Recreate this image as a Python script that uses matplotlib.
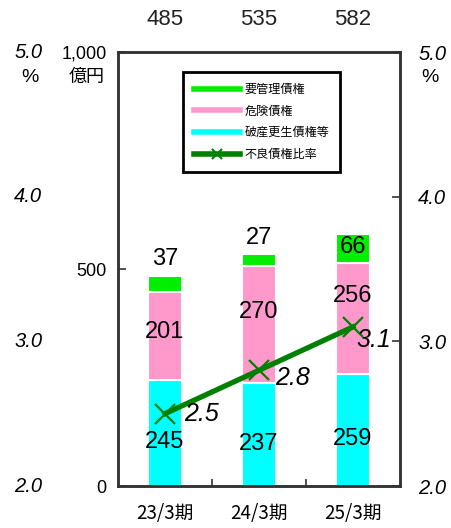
import matplotlib.pyplot as plt
import numpy as np
from matplotlib.lines import Line2D

plt.rcParams['font.family'] = ['Liberation Sans', 'Noto Sans CJK JP', 'DejaVu Sans']

# data
periods = ['23/3期', '24/3期', '25/3期']
hasan = [245, 237, 259]      # 破産更生債権等
kiken = [201, 270, 256]      # 危険債権
yokanri = [37, 27, 66]       # 要管理債権
totals = [485, 535, 582]
ratio = [2.5, 2.8, 3.1]      # 不良債権比率 (%)

c_green = '#00ee00'
c_pink = '#ff99cc'
c_cyan = '#00ffff'
c_line = '#008000'
spine_c = '#333333'

fig = plt.figure(figsize=(4.52, 5.28), dpi=100)
ax = fig.add_axes([0.261, 0.0795, 0.624, 0.822])
x = np.arange(len(periods))
w = 0.37

ax.bar(x, hasan, w, color=c_cyan, edgecolor='white', linewidth=1.5)
ax.bar(x, kiken, w, bottom=hasan, color=c_pink, edgecolor='white', linewidth=1.5)
bot3 = np.array(hasan) + np.array(kiken)
ax.bar(x, yokanri, w, bottom=bot3, color=c_green, edgecolor='white', linewidth=1.5)

ax.set_xlim(-0.5, 2.5)
ax.set_ylim(0, 1000)
ax.set_yticks([0, 500, 1000])
ax.set_yticklabels(['0', '500', '1,000'], fontsize=13)
ax.tick_params(axis='y', direction='in', length=6, width=1.2, color=spine_c, pad=8)
ax.set_xticks([0.5, 1.5])
ax.set_xticklabels([])
ax.tick_params(axis='x', direction='in', length=5, width=1.2, color=spine_c)
for i, p in enumerate(periods):
    ax.text(x[i], -0.038, p, transform=ax.get_xaxis_transform(), ha='center', va='top',
            fontsize=13.5, family=['Noto Sans CJK JP'])
for s in ax.spines.values():
    s.set_linewidth(1.8)
    s.set_color(spine_c)

ax.text(-0.11, 0.942, '億円', transform=ax.transAxes, ha='center', va='center', fontsize=13,
        family=['Noto Sans CJK JP'])

# segment labels
pink_off = (10, 30, 50)
for i in range(3):
    ax.text(x[i], hasan[i] / 2 - 22, str(hasan[i]), ha='center', va='center', fontsize=17)
    ax.text(x[i], hasan[i] + kiken[i] / 2 + pink_off[i], str(kiken[i]),
            ha='center', va='center', fontsize=17)
    if yokanri[i] > 50:
        ax.text(x[i], bot3[i] + yokanri[i] / 2 + 2, str(yokanri[i]), ha='center', va='center',
                fontsize=17)
    else:
        ax.text(x[i], totals[i] + 12, str(yokanri[i]), ha='center', va='bottom', fontsize=17)
    ax.text(x[i], 1.075, str(totals[i]), transform=ax.get_xaxis_transform(),
            ha='center', va='center', fontsize=16, color='#222222')

# ratio line on secondary axis
ax2 = ax.twinx()
ax2.set_ylim(2.0, 5.0)
ax2.plot(x, ratio, color=c_line, linewidth=3.8, marker='x', markersize=14,
         markeredgewidth=1.6)
lab_dx = (0.2, 0.17, 0.04)
lab_dy = (0.0, -0.05, -0.09)
for i in range(3):
    ax2.text(x[i] + lab_dx[i], ratio[i] + lab_dy[i], f'{ratio[i]:.1f}', ha='left', va='center',
             fontsize=18, style='italic')
ax2.set_yticks([2, 3, 4, 5])
ax2.set_yticklabels(['2.0', '3.0', '4.0', '5.0'], fontsize=14.5, style='italic')
ax2.tick_params(axis='y', direction='in', length=6, width=1.2, color=spine_c, pad=13)
for s in ax2.spines.values():
    s.set_linewidth(1.8)
    s.set_color(spine_c)
ax2.text(1.106, 0.942, '%', transform=ax2.transAxes, ha='center', va='center', fontsize=14)

# duplicate % scale on the far left
for v in [2, 3, 4, 5]:
    ax2.text(-0.268, v, f'{v:.1f}', transform=ax2.get_yaxis_transform(), ha='right',
             va='center', fontsize=14.5, style='italic')
ax2.text(-0.312, 0.942, '%', transform=ax2.transAxes, ha='center', va='center', fontsize=14)

# legend
handles = [Line2D([], [], color=c_green, linewidth=4),
           Line2D([], [], color=c_pink, linewidth=4),
           Line2D([], [], color=c_cyan, linewidth=4),
           Line2D([], [], color=c_line, linewidth=4, marker='x', markersize=7, markeredgewidth=1.5)]
labels = ['要管理債権', '危険債権', '破産更生債権等', '不良債権比率']
leg = ax2.legend(handles, labels, loc='upper left', bbox_to_anchor=(0.23, 0.954),
                 borderaxespad=0, fancybox=False, edgecolor='black', framealpha=1,
                 prop={'family': ['Noto Sans CJK JP'], 'size': 8.7}, handlelength=3.8,
                 handletextpad=0.4, labelspacing=0.72, borderpad=0.9)
leg.get_frame().set_linewidth(2)

fig.savefig('out.png', dpi=100)
